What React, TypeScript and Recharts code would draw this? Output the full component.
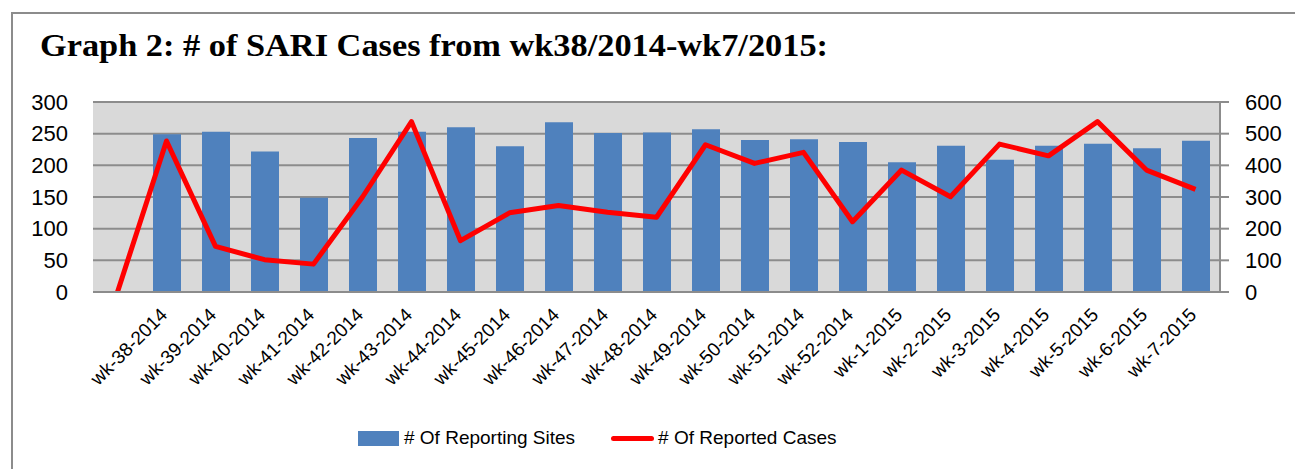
import { ComposedChart, Bar, Line, XAxis, YAxis, CartesianGrid, Legend } from 'recharts'

const weeks = [
  '',
  'wk-38-2014', 'wk-39-2014', 'wk-40-2014', 'wk-41-2014', 'wk-42-2014',
  'wk-43-2014', 'wk-44-2014', 'wk-45-2014', 'wk-46-2014', 'wk-47-2014',
  'wk-48-2014', 'wk-49-2014', 'wk-50-2014', 'wk-51-2014', 'wk-52-2014',
  'wk-1-2015', 'wk-2-2015', 'wk-3-2015', 'wk-4-2015', 'wk-5-2015',
  'wk-6-2015', 'wk-7-2015',
]
const reportingSites = [
  null, 249, 253, 222, 149, 243, 253, 260, 230, 268, 251,
  252, 257, 240, 241, 237, 205, 231, 209, 231, 234, 227, 239,
]
const reportedCases = [
  0, 477, 144, 102, 88, 300, 538, 162, 250, 273, 252,
  236, 465, 406, 441, 222, 385, 301, 467, 430, 538, 385, 324,
]
const leftTicks = [0, 50, 100, 150, 200, 250, 300]
const rightTicks = [0, 100, 200, 300, 400, 500, 600]
const seriesNames = ['# Of Reporting Sites', '# Of Reported Cases']

const data = weeks.map((week, i) => ({
  week,
  sites: reportingSites[i],
  cases: reportedCases[i],
}))

const FONT = '"Liberation Sans", Arial, sans-serif'
const GRID = '#8c8c8c'

function WeekTick({ x, y, payload }: any) {
  if (!payload.value) return null
  const tx = x + 2
  const ty = y + 16
  return (
    <text
      x={tx}
      y={ty}
      transform={`rotate(-45 ${tx} ${ty})`}
      textAnchor="end"
      fontSize={19}
      fontFamily={FONT}
      fill="#000"
    >
      {payload.value}
    </text>
  )
}

function renderLegend({ payload }: any) {
  const items = [...(payload || [])].sort(
    (a: any, b: any) => seriesNames.indexOf(a.value) - seriesNames.indexOf(b.value)
  )
  return (
    <div
      style={{
        display: 'flex',
        alignItems: 'center',
        height: 30,
        paddingLeft: 350,
        fontFamily: FONT,
        fontSize: 19,
        color: '#000',
      }}
    >
      {items.map((item: any, i: number) => (
        <div key={i} style={{ display: 'flex', alignItems: 'center', marginLeft: i ? 36 : 0 }}>
          {item.type === 'line' ? (
            <span style={{ width: 43, height: 5, background: item.color, borderRadius: 3, marginRight: 4 }} />
          ) : (
            <span style={{ width: 41, height: 15, background: item.color, marginRight: 5 }} />
          )}
          <span>{item.value}</span>
        </div>
      ))}
    </div>
  )
}

export default function App() {
  return (
    <div style={{ position: 'relative', width: 1295, height: 461, overflow: 'hidden' }}>
      <div
        style={{
          position: 'absolute',
          left: 3,
          top: 4,
          width: 1284,
          height: 520,
          border: '2px solid #8c8c8c',
        }}
      />
      <svg width={900} height={60} style={{ position: 'absolute', left: 0, top: 0 }}>
        <text
          x={32}
          y={48}
          fontFamily='"Liberation Serif", "Times New Roman", serif'
          fontWeight="bold"
          fontSize={32}
          textLength={788}
          lengthAdjust="spacingAndGlyphs"
          fill="#000"
        >
          Graph 2: # of SARI Cases from wk38/2014-wk7/2015:
        </text>
      </svg>
      <ComposedChart
        width={1290}
        height={455}
        data={data}
        margin={{ top: 94, right: 0, left: 0, bottom: 10 }}
        barSize={28}
      >
        <CartesianGrid
          yAxisId="left"
          vertical={false}
          fill="#d9d9d9"
          stroke={GRID}
          strokeWidth={2}
        />
        <XAxis
          dataKey="week"
          interval={0}
          height={131}
          axisLine={{ stroke: GRID, strokeWidth: 2 }}
          tickLine={false}
          tick={<WeekTick />}
        />
        <YAxis
          yAxisId="left"
          width={85}
          domain={[0, 300]}
          ticks={leftTicks}
          axisLine={false}
          tickLine={false}
          tickSize={0}
          tickMargin={25}
          tick={{ fontSize: 22, fill: '#000', fontFamily: FONT }}
        />
        <YAxis
          yAxisId="right"
          orientation="right"
          width={78}
          domain={[0, 600]}
          ticks={rightTicks}
          axisLine={{ stroke: GRID, strokeWidth: 2 }}
          tickLine={{ stroke: GRID, strokeWidth: 2 }}
          tickSize={9}
          tickMargin={16}
          tick={{ fontSize: 22, fill: '#000', fontFamily: FONT }}
        />
        <Legend verticalAlign="bottom" content={renderLegend} />
        <Bar
          yAxisId="left"
          dataKey="sites"
          name={seriesNames[0]}
          fill="#4f81bd"
          isAnimationActive={false}
        />
        <Line
          yAxisId="right"
          type="linear"
          dataKey="cases"
          name={seriesNames[1]}
          stroke="#ff0000"
          strokeWidth={5}
          strokeLinejoin="round"
          dot={false}
          activeDot={false}
          isAnimationActive={false}
        />
      </ComposedChart>
    </div>
  )
}
